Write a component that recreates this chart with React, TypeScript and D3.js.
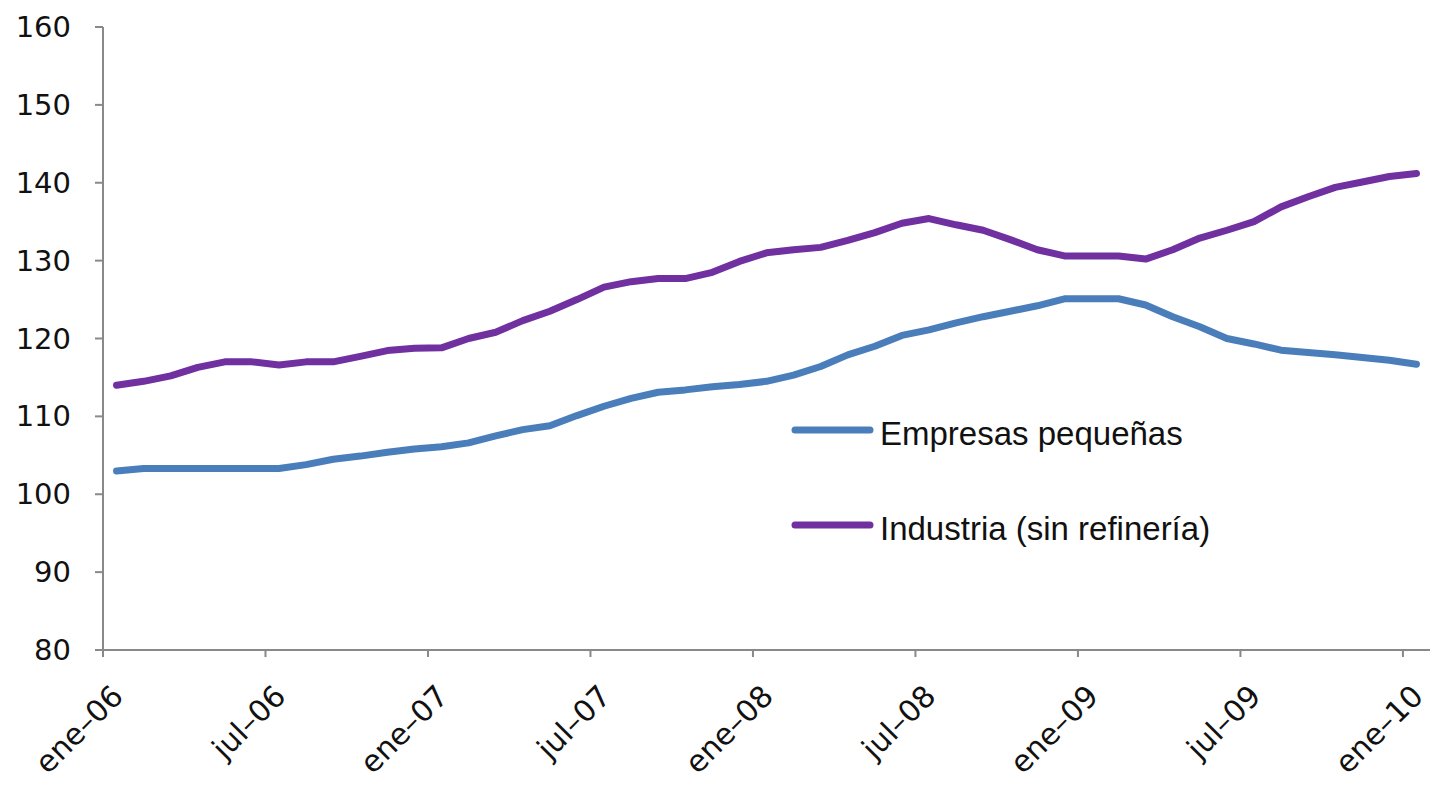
import React from "react";
import * as d3 from "d3";

const MONTHS = ["ene", "feb", "mar", "abr", "may", "jun", "jul", "ago", "sep", "oct", "nov", "dic"];
const YEARS = ["06", "07", "08", "09", "10"];
const categories: string[] = YEARS.flatMap((y) => MONTHS.map((m) => `${m}-${y}`)).slice(0, 49);

const tickLabels = ["ene–06", "jul–06", "ene–07", "jul–07", "ene–08", "jul–08", "ene–09", "jul–09", "ene–10"];
const yTicks = [80, 90, 100, 110, 120, 130, 140, 150, 160];

const empresasPequenas = [
  103.0, 103.3, 103.3, 103.3, 103.3, 103.3, 103.3, 103.8, 104.5, 104.9,
  105.4, 105.8, 106.1, 106.6, 107.5, 108.3, 108.8, 110.1, 111.3, 112.3,
  113.1, 113.4, 113.8, 114.1, 114.5, 115.3, 116.4, 117.9, 119.0, 120.4,
  121.1, 122.0, 122.8, 123.5, 124.2, 125.1, 125.1, 125.1, 124.3, 122.8,
  121.5, 120.0, 119.3, 118.5, 118.2, 117.9, 117.55, 117.2, 116.7,
];

const industria = [
  114.0, 114.5, 115.2, 116.3, 117.0, 117.0, 116.6, 117.0, 117.0, 117.7,
  118.45, 118.75, 118.8, 120.0, 120.8, 122.3, 123.5, 125.0, 126.6, 127.3,
  127.7, 127.7, 128.5, 129.9, 131.0, 131.4, 131.7, 132.6, 133.6, 134.8,
  135.4, 134.6, 133.9, 132.7, 131.4, 130.6, 130.6, 130.6, 130.2, 131.4,
  132.9, 133.9, 135.0, 136.9, 138.2, 139.4, 140.1, 140.8, 141.2,
];

const seriesNames = ["Empresas pequeñas", "Industria (sin refinería)"];
const seriesColors = ["#4A7EBB", "#7030A0"];

export default function App() {
  const W = 1430;
  const H = 785;
  const left = 103;
  const right = 1430;
  const top = 27;
  const bottom = 650;

  const x = d3.scaleLinear().domain([0, categories.length]).range([left, right]);
  const y = d3.scaleLinear().domain([80, 160]).range([bottom, top]);

  const line = d3
    .line<number>()
    .x((_, i) => x(i + 0.5))
    .y((d) => y(d));

  const series = [empresasPequenas, industria];
  const axisColor = "#898989";
  const font = "'DejaVu Sans', Verdana, sans-serif";

  const legendY = [430, 525];

  return (
    <div style={{ position: "absolute", left: 0, top: 0 }}>
      <svg width={W} height={H} style={{ display: "block", background: "#fff" }}>
        {/* y axis */}
        <line x1={left} x2={left} y1={top} y2={bottom} stroke={axisColor} strokeWidth={2} />
        {yTicks.map((t) => (
          <g key={t}>
            <line x1={left - 8} x2={left} y1={y(t)} y2={y(t)} stroke={axisColor} strokeWidth={2} />
            <text
              x={71}
              y={y(t)}
              textAnchor="end"
              dominantBaseline="central"
              fontFamily={font}
              fontSize={29}
              fill="#111"
            >
              {t}
            </text>
          </g>
        ))}
        {/* x axis */}
        <line x1={left} x2={right} y1={bottom} y2={bottom} stroke={axisColor} strokeWidth={2} />
        {tickLabels.map((lab, k) => {
          const tx = x(k * 6);
          return (
            <g key={lab}>
              <line x1={tx} x2={tx} y1={bottom} y2={bottom + 7} stroke={axisColor} strokeWidth={2} />
              <text
                transform={`translate(${tx + 22},${bottom + 48}) rotate(-45)`}
                textAnchor="end"
                fontFamily={font}
                fontSize={30}
                fill="#111"
              >
                {lab}
              </text>
            </g>
          );
        })}
        {/* lines */}
        {series.map((s, i) => (
          <path
            key={i}
            d={line(s) || ""}
            fill="none"
            stroke={seriesColors[i]}
            strokeWidth={7}
            strokeLinejoin="round"
            strokeLinecap="round"
          />
        ))}
        {/* legend */}
        {seriesNames.map((n, i) => (
          <g key={n}>
            <line
              x1={795}
              x2={870}
              y1={legendY[i]}
              y2={legendY[i]}
              stroke={seriesColors[i]}
              strokeWidth={7}
              strokeLinecap="round"
            />
            <text
              x={880}
              y={legendY[i] + 15}
              fontFamily="'Liberation Sans', Arial, sans-serif"
              fontSize={33}
              fill="#111"
            >
              {n}
            </text>
          </g>
        ))}
      </svg>
    </div>
  );
}
